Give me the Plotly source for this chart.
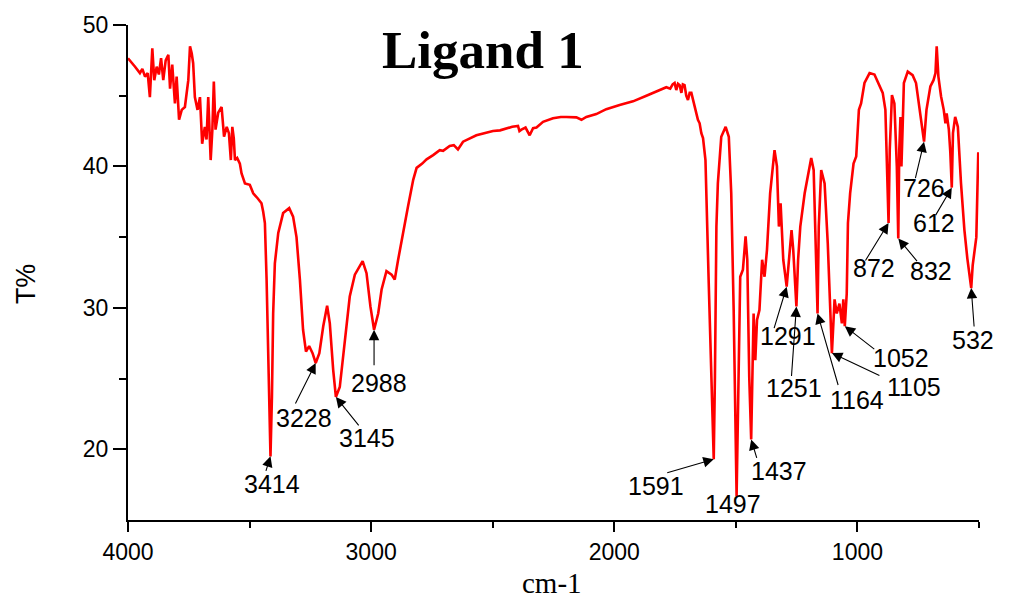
import plotly.graph_objects as go

# FT-IR spectrum of Ligand 1: wavenumber (cm-1) and transmittance (%)
wavenumber = [
    4000, 3985, 3971, 3951, 3941, 3930, 3919, 3910, 3900, 3892, 3882, 3873, 3864, 3855,
    3845, 3834, 3827, 3818, 3807, 3800, 3790, 3779, 3766, 3752, 3745, 3738, 3732, 3725,
    3714, 3704, 3695, 3684, 3677, 3670, 3660, 3653, 3647, 3640, 3629, 3615, 3605, 3594,
    3585, 3577, 3571, 3565, 3560, 3551, 3540, 3533, 3519, 3499, 3485, 3467, 3451, 3444,
    3437, 3430, 3419, 3414, 3408, 3403, 3396, 3382, 3362, 3337, 3321, 3307, 3293, 3280,
    3268, 3255, 3241, 3228, 3213, 3197, 3181, 3170, 3156, 3145, 3129, 3108, 3088, 3067,
    3035, 3019, 3003, 2988, 2971, 2957, 2937, 2916, 2903, 2889, 2868, 2848, 2827, 2813,
    2790, 2772, 2745, 2718, 2704, 2677, 2660, 2643, 2622, 2600, 2567, 2535, 2499, 2470,
    2444, 2420, 2396, 2390, 2382, 2365, 2348, 2334, 2320, 2293, 2252, 2220, 2197, 2156,
    2135, 2115, 2074, 2033, 1978, 1923, 1868, 1827, 1786, 1770, 1760, 1752, 1745, 1738,
    1731, 1724, 1718, 1711, 1704, 1697, 1690, 1683, 1670, 1656, 1649, 1642, 1635, 1625,
    1612, 1591, 1586, 1580, 1574, 1560, 1542, 1529, 1519, 1509, 1497, 1492, 1482, 1471,
    1460, 1453, 1445, 1437, 1432, 1427, 1420, 1413, 1403, 1392, 1382, 1372, 1359, 1341,
    1331, 1323, 1316, 1305, 1291, 1281, 1271, 1264, 1251, 1244, 1235, 1217, 1190, 1180,
    1172, 1164, 1159, 1149, 1135, 1122, 1105, 1094, 1085, 1074, 1064, 1058, 1052, 1044,
    1039, 1030, 1016, 1005, 994, 985, 971, 950, 930, 909, 896, 885, 878, 872,
    867, 858, 848, 838, 832, 828, 823, 819, 814, 809, 793, 773, 759, 748,
    742, 726, 716, 700, 687, 679, 674, 667, 656, 645, 638, 633, 624, 618,
    612, 607, 598, 587, 574, 560, 548, 532, 526, 518, 511, 503,
]
transmittance = [
    47.65, 47.3, 47.05, 46.6, 46.9, 46.35, 46.6, 44.9, 48.35, 46.1, 47.05, 46.5, 47.65, 46.1,
    47.5, 47.9, 45.5, 47.2, 44.45, 46.35, 43.3, 44.0, 44.2, 46.1, 48.5, 48.0, 47.3, 44.9,
    44.0, 44.9, 41.6, 42.8, 41.9, 44.9, 40.45, 42.6, 46.0, 42.6, 43.8, 44.2, 42.1, 42.8,
    42.35, 40.45, 42.8, 42.0, 40.45, 40.6, 40.2, 39.5, 38.8, 38.7, 38.1, 37.75, 37.4, 36.8,
    36.0, 32.0, 22.55, 19.5, 23.7, 29.6, 33.15, 35.3, 36.7, 37.05, 36.45, 35.0, 32.0, 28.45,
    26.9, 27.3, 26.8, 26.1, 26.8, 28.7, 30.15, 28.9, 25.6, 23.7, 24.4, 27.7, 30.8, 32.35,
    33.3, 32.45, 30.1, 28.45, 29.6, 31.3, 32.6, 32.35, 32.0, 33.4, 35.5, 37.2, 39.05, 39.9,
    40.2, 40.5, 40.8, 41.15, 41.1, 41.45, 41.5, 41.2, 41.75, 41.95, 42.2, 42.35, 42.5, 42.55,
    42.7, 42.8, 42.86, 42.5, 42.6, 42.75, 42.2, 42.7, 42.75, 43.15, 43.4, 43.5, 43.5, 43.47,
    43.3, 43.5, 43.7, 44.05, 44.35, 44.6, 45.0, 45.3, 45.6, 45.5, 45.8, 45.9, 45.4, 45.85,
    45.75, 45.2, 45.8, 45.75, 45.0, 44.7, 45.2, 45.2, 44.2, 43.3, 43.05, 42.35, 42.0, 40.45,
    32.0, 19.3, 25.2, 35.75, 38.8, 42.1, 42.8, 42.1, 38.1, 29.85, 16.7, 22.8, 32.2, 32.7,
    35.05, 33.4, 25.15, 20.7, 25.15, 29.6, 26.3, 29.15, 29.85, 33.4, 32.2, 34.1, 38.1, 41.15,
    40.0, 35.75, 37.4, 33.4, 31.5, 33.4, 35.5, 34.1, 30.1, 33.4, 35.75, 38.1, 40.6, 39.75,
    34.55, 29.6, 35.75, 39.75, 38.8, 34.55, 26.8, 30.6, 29.6, 30.3, 28.9, 30.6, 28.7, 31.0,
    36.0, 38.1, 40.2, 40.7, 44.0, 44.45, 45.9, 46.6, 46.5, 45.65, 45.2, 44.0, 40.0, 36.0,
    41.2, 45.05, 44.45, 40.0, 34.9, 41.15, 43.5, 40.0, 42.8, 45.9, 46.7, 46.45, 45.9, 44.5,
    44.0, 41.75, 44.0, 45.65, 46.1, 46.6, 48.5, 46.35, 44.95, 44.0, 43.05, 43.75, 42.6, 41.0,
    38.5, 42.35, 43.5, 42.8, 38.8, 35.5, 33.5, 31.4, 33.0, 34.0, 35.0, 41.0,
]

# Labelled absorption bands (cm-1)
peak_labels = [3414, 3228, 3145, 2988, 1591, 1437, 1291, 1251, 1164, 1105, 1052,
               872, 832, 726, 612, 532]
label_1497 = 1497

# Arrow tail offsets and label-centre offsets (px) relative to each band minimum
arrow_tail = {
    3414: (-5, 16), 3228: (-21, 42), 3145: (24, 30), 2988: (0, 37),
    1591: (-48, 14), 1437: (6, 20), 1291: (-13, 43), 1251: (-5, 71),
    1164: (21, 73), 1105: (49, 23), 1052: (31, 24), 872: (-24, 39),
    832: (20, 24), 726: (-9, 38), 612: (-17, 29), 532: (3, 40),
}
label_pos = {
    3414: (2, 28), 3228: (-12, 55), 3145: (31, 41), 2988: (5, 53),
    1591: (-58, 27), 1437: (28, 32), 1291: (1, 49), 1251: (-2, 82),
    1164: (39, 86), 1105: (82, 34), 1052: (56, 32), 872: (-15, 45),
    832: (33, 32), 726: (0, 46), 612: (-18, 35), 532: (2, 52),
}

spec = dict(zip(wavenumber, transmittance))

fig = go.Figure()
fig.add_trace(go.Scatter(
    x=wavenumber, y=transmittance, mode="lines",
    line=dict(color="#ff0000", width=2.6),
    showlegend=False, hoverinfo="skip",
))

label_font = dict(family="Liberation Sans, Arial, sans-serif", size=25, color="black")
annotations = []
for wn in peak_labels:
    t = spec[wn]
    ax, ay = arrow_tail[wn]
    annotations.append(dict(
        x=wn, y=t, xref="x", yref="y", text="", showarrow=True,
        ax=ax, ay=ay, axref="pixel", ayref="pixel",
        arrowhead=2, arrowsize=1.9, arrowwidth=1.1, arrowcolor="black", standoff=0,
    ))
    lx, ly = label_pos[wn]
    annotations.append(dict(
        x=wn, y=t, xref="x", yref="y", text=str(wn), showarrow=False,
        xanchor="center", yanchor="middle", xshift=lx, yshift=-ly, font=label_font,
    ))
annotations.append(dict(
    x=label_1497, y=spec[label_1497], xref="x", yref="y", text=str(label_1497),
    showarrow=False, xanchor="center", yanchor="middle", xshift=-4, yshift=-8,
    font=label_font,
))

# Title and axis titles
annotations.append(dict(
    x=0.417, y=0.950, xref="paper", yref="paper", text="<b>Ligand 1</b>",
    showarrow=False, xanchor="center", yanchor="middle",
    font=dict(family="Liberation Serif, Times New Roman, serif", size=53, color="black"),
))
annotations.append(dict(
    x=0.4977, y=-0.128, xref="paper", yref="paper", text="cm-1",
    showarrow=False, xanchor="center", yanchor="middle",
    font=dict(family="Liberation Serif, Times New Roman, serif", size=29, color="black"),
))
annotations.append(dict(
    x=-0.119, y=0.478, xref="paper", yref="paper", text="T%", textangle=-90,
    showarrow=False, xanchor="center", yanchor="middle",
    font=dict(family="Liberation Sans, Arial, sans-serif", size=27, color="black"),
))

tick_font = dict(family="Liberation Sans, Arial, sans-serif", size=23, color="black")
fig.update_layout(
    width=1022, height=600,
    margin=dict(l=128, r=43, t=25, b=80),
    paper_bgcolor="white", plot_bgcolor="white",
    annotations=annotations,
    xaxis=dict(
        range=[4000, 500], tickmode="array", tickvals=[4000, 3000, 2000, 1000],
        ticks="outside", ticklen=10, tickwidth=2, tickcolor="black",
        showline=True, linecolor="black", linewidth=2, showgrid=False, zeroline=False,
        tickfont=tick_font,
        minor=dict(tickmode="array", tickvals=[3500, 2500, 1500, 500],
                   ticks="outside", ticklen=6, tickwidth=2, tickcolor="black", showgrid=False),
    ),
    yaxis=dict(
        range=[15, 50], tickmode="array", tickvals=[20, 30, 40, 50],
        ticks="outside", ticklen=13, tickwidth=2, tickcolor="black",
        showline=True, linecolor="black", linewidth=2, showgrid=False, zeroline=False,
        tickfont=tick_font,
        minor=dict(tickmode="array", tickvals=[25, 35, 45],
                   ticks="outside", ticklen=7, tickwidth=2, tickcolor="black", showgrid=False),
    ),
)

fig.write_html("out.html")
